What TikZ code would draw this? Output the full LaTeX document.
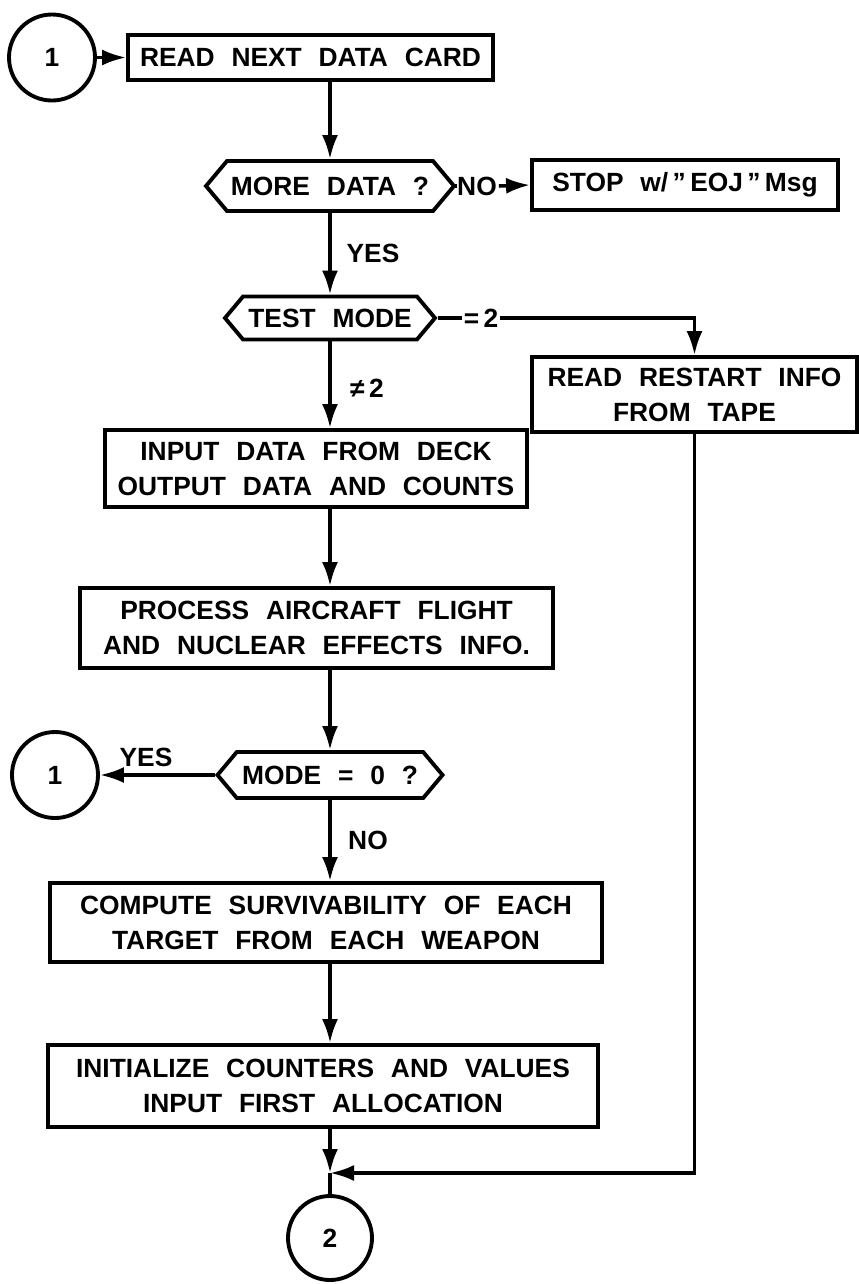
\documentclass[tikz,border=0pt]{standalone}
\usepackage{fontspec}
\setmainfont{Liberation Sans}[WordSpace=2.3]
\usetikzlibrary{shapes,arrows.meta,positioning,calc}
\newcommand{\flowfont}{\fontsize{15}{20}\selectfont\bfseries}

\tikzset{
  flowbox/.style={draw, line width=2.2pt, rectangle, align=center, font=\flowfont, inner sep=2pt},
  testbox/.style={draw, line width=2.2pt, signal, signal to=east and west, signal pointer angle=100, font=\flowfont, inner sep=2pt},
  connector/.style={draw, line width=2.2pt, circle, font=\flowfont, minimum size=1.72cm, inner sep=0pt},
  flowlabel/.style={font=\flowfont, inner sep=1pt},
  flowline/.style={line width=2pt, -{Latex[length=4.8mm,width=3.2mm]}},
  plainline/.style={line width=2pt},
}

\begin{document}
\begin{tikzpicture}
                \useasboundingbox (0,0) rectangle (17.18,-25.68);
                \coordinate (spine) at (6.6,0);

                % Main column
                \node[connector] (loopa) at (1.04,-1.15) {1};
                \node[flowbox, minimum width=7.3cm, minimum height=0.9cm] (readcard) at (6.21,-1.15) {READ NEXT DATA CARD};
                \node[testbox, minimum width=4.96cm, minimum height=1.0cm] (moredata) at (6.6,-3.72) {MORE DATA ?};
                \node[flowbox, minimum width=6.12cm, minimum height=1.0cm] (stopjob) at (13.7,-3.7) {STOP w/\,"\,EOJ\,"\,Msg};
                \node[testbox, minimum width=4.2cm, minimum height=0.86cm] (testmode) at (6.6,-6.36) {TEST MODE};
                \node[flowbox, minimum width=6.5cm, minimum height=1.5cm] (restart) at (13.89,-7.89) {READ RESTART INFO\\FROM TAPE};
                \node[flowbox, minimum width=8.44cm, minimum height=1.54cm] (inputdeck) at (6.32,-9.37) {INPUT DATA FROM DECK\\OUTPUT DATA AND COUNTS};
                \node[flowbox, minimum width=9.46cm, minimum height=1.6cm] (aircraft) at (6.33,-12.56) {PROCESS AIRCRAFT FLIGHT\\AND NUCLEAR EFFECTS INFO.};
                \node[testbox, minimum width=4.5cm, minimum height=0.92cm] (modezero) at (6.6,-15.5) {MODE = 0 ?};
                \node[connector] (loopb) at (1.1,-15.5) {1};
                \node[flowbox, minimum width=11.04cm, minimum height=1.58cm] (survive) at (6.52,-18.45) {COMPUTE SURVIVABILITY OF EACH\\TARGET FROM EACH WEAPON};
                \node[flowbox, minimum width=11cm, minimum height=1.64cm] (initcount) at (6.46,-21.72) {INITIALIZE COUNTERS AND VALUES\\INPUT FIRST ALLOCATION};
                \node[connector, minimum size=1.68cm] (loopc) at (6.6,-24.76) {2};
                \coordinate (join) at (6.6,-23.46);

                % Branch labels
                \node[flowlabel] (noa) at (9.54,-3.72) {NO};
                \node[flowlabel] (yesa) at (7.46,-5.06) {YES};
                \node[flowlabel] (eqtwo) at (9.62,-6.36) {=\,2};
                \node[flowlabel] (netwo) at (7.34,-7.76) {≠\,2};
                \node[flowlabel] (yesb) at (2.92,-15.14) {YES};
                \node[flowlabel] (nob) at (7.36,-16.8) {NO};

                % Connectors
                \draw[flowline] (loopa) -- (readcard);
                \draw[flowline] (readcard.south -| spine) -- (moredata.north -| spine);
                \draw[plainline] (moredata.east) -- (noa.west);
                \draw[flowline] (noa.east) -- (stopjob.west);
                \draw[flowline] (moredata.south -| spine) -- (testmode.north -| spine);
                \draw[plainline] (testmode.east) -- (eqtwo.west);
                \draw[flowline] (eqtwo.east) -| (restart.north);
                \draw[flowline] (testmode.south -| spine) -- (inputdeck.north -| spine);
                \draw[flowline] (inputdeck.south -| spine) -- (aircraft.north -| spine);
                \draw[flowline] (aircraft.south -| spine) -- (modezero.north -| spine);
                \draw[flowline] (modezero.west) -- (loopb);
                \draw[flowline] (modezero.south -| spine) -- (survive.north -| spine);
                \draw[flowline] (survive.south -| spine) -- (initcount.north -| spine);
                \draw[flowline] (initcount.south -| spine) -- (join);
                \draw[flowline] (restart.south) |- (join);
                \draw[plainline] (join) -- (loopc);
\end{tikzpicture}
\end{document}
